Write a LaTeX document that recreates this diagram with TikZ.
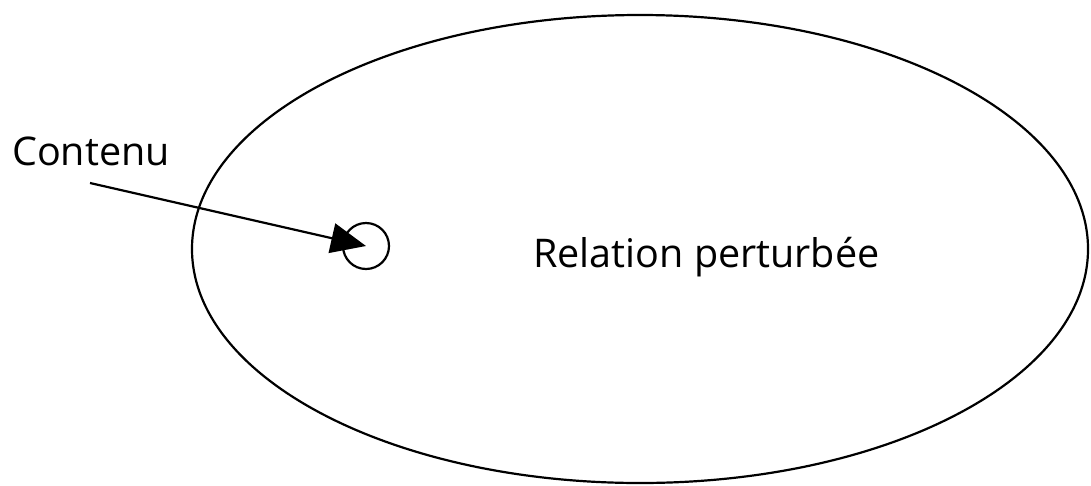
\documentclass[tikz,border=0pt]{standalone}
\usepackage{fontspec}
\setmainfont{Open Sans}
\usetikzlibrary{shapes.geometric,arrows.meta}
\tikzset{
  line/.style={line width=2.2pt, draw=black},
  lbl/.style={inner sep=0pt, font=\fontsize{39.5}{42}\selectfont},
}
\begin{document}
\begin{tikzpicture}[x=1pt,y=-1pt]
\useasboundingbox (0,0) rectangle (1091,485);
\node[line, ellipse, minimum width=896pt, minimum height=468pt, inner sep=0pt] (rel) at (640,249) {};
\node[lbl, anchor=base west] (reltext) at (533,267) {Relation perturbée};
\node[line, circle, minimum size=46pt, inner sep=0pt] (c) at (366,246) {};
\node[lbl, anchor=base west] (cont) at (12,165) {Contenu};
\coordinate (start) at (90,183);
\draw[line, -{Triangle[length=35pt,width=30pt]}] (start) -- (c.center);
\end{tikzpicture}
\end{document}
